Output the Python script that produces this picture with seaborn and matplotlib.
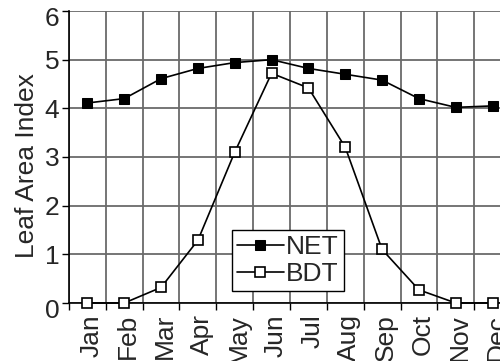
import numpy as np
import pandas as pd
import matplotlib
matplotlib.use("Agg")
import matplotlib.pyplot as plt
import matplotlib.transforms as mtransforms
import seaborn as sns

months = ["Jan", "Feb", "Mar", "Apr", "May", "Jun", "Jul", "Aug", "Sep", "Oct", "Nov", "Dec"]
net = [4.11, 4.20, 4.61, 4.82, 4.94, 5.00, 4.82, 4.70, 4.58, 4.20, 4.02, 4.05]
bdt = [0.0, 0.0, 0.32, 1.29, 3.10, 4.72, 4.42, 3.20, 1.10, 0.27, 0.0, 0.0]

df = pd.DataFrame({"pos": np.arange(len(months)), "NET": net, "BDT": bdt})

sns.set_style("white")
plt.rcParams["font.family"] = ["Liberation Sans", "DejaVu Sans"]

fig = plt.figure(figsize=(5, 3.61), dpi=100)
# axes runs a bit past the right edge of the figure, like the original
ax = fig.add_axes([69/500, 58/361, 442/500, 292/361])

sns.lineplot(data=df, x="pos", y="NET", ax=ax, color="black", lw=1.2,
             marker="s", markersize=7, markerfacecolor="black", markeredgecolor="black",
             label="NET", clip_on=False, zorder=5)
sns.lineplot(data=df, x="pos", y="BDT", ax=ax, color="black", lw=1.2,
             marker="s", markersize=7, markerfacecolor="white", markeredgecolor="black",
             markeredgewidth=1.2, label="BDT", clip_on=False, zorder=5)

ax.set_xlim(-0.5, 11.5)
ax.set_ylim(0, 6)
ax.set_yticks(range(0, 7))
ax.set_xticks(df["pos"])
ax.set_xticklabels(months, rotation=90, fontsize=19)
ax.set_xticks(np.arange(-0.5, 12, 1), minor=True)
ax.tick_params(axis="x", which="major", length=0, pad=8)
ax.tick_params(axis="x", which="minor", length=5, width=1, color="black", direction="out", bottom=True)
ax.tick_params(axis="y", which="major", length=5, width=1, color="black", direction="out",
               left=True, labelsize=19, pad=2)

# month labels sit a little to the right of the points in the original
shift = mtransforms.ScaledTranslation(4/100, 0, fig.dpi_scale_trans)
for lab in ax.get_xticklabels():
    lab.set_transform(lab.get_transform() + shift)
# the end labels 0 and 6 are pushed down a bit
down = mtransforms.ScaledTranslation(0, -6/100, fig.dpi_scale_trans)
ylabs = ax.get_yticklabels()
for lab in (ylabs[0], ylabs[-1]):
    lab.set_transform(lab.get_transform() + down)

ax.grid(False)
ax.grid(which="minor", axis="x", color="#6a6a6a", lw=1.3)
ax.grid(which="major", axis="y", color="#6a6a6a", lw=1.3)
ax.set_axisbelow(True)

for s in ["top", "right"]:
    ax.spines[s].set_visible(False)
for s in ["left", "bottom"]:
    ax.spines[s].set_color("black")
    ax.spines[s].set_linewidth(1.2)

ax.set_xlabel("")
ax.set_ylabel("Leaf Area Index", fontsize=19, labelpad=4)
ax.yaxis.label.set_y(0.47)

ax.legend(loc="lower left", bbox_to_anchor=(0.369, 0.041), borderaxespad=0,
          frameon=True, fancybox=False, edgecolor="black", framealpha=1,
          fontsize=19, borderpad=0.2, handlelength=1.75, handletextpad=0.1,
          labelspacing=0.1)
ax.get_legend().get_frame().set_linewidth(1.0)

fig.savefig("out.png", dpi=100)
